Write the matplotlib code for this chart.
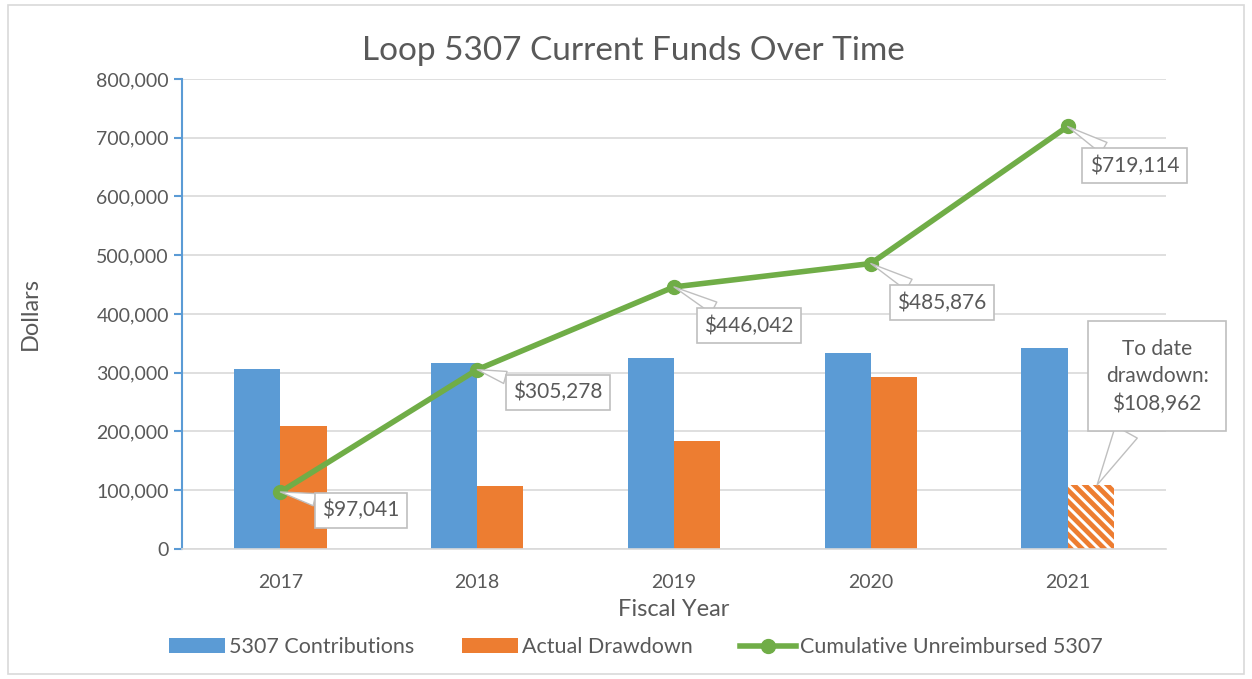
import numpy as np
import matplotlib.pyplot as plt
from matplotlib.patches import Rectangle
from matplotlib.ticker import FuncFormatter

years = ["2017", "2018", "2019", "2020", "2021"]
contributions = [307000, 316000, 325000, 334000, 342000]
drawdown = [210000, 107000, 184000, 293000, 108962]
cumulative = [97041, 305278, 446042, 485876, 719114]
label_pos = [(0.41, 66000), (1.41, 267000), (2.38, 380000), (3.36, 419000), (4.34, 652000)]

blue = "#5B9BD5"
orange = "#ED7D31"
green = "#70AD47"
txt = "#595959"

plt.rcParams['font.family'] = ['Lato', 'DejaVu Sans']
plt.rcParams['hatch.linewidth'] = 3.5

fig = plt.figure(figsize=(12.52, 6.79), dpi=100)
ax = fig.add_axes([0.1454, 0.1915, 0.7859, 0.6922])
fig.patches.append(Rectangle((0.006, 0.008), 0.988, 0.984, transform=fig.transFigure,
                             fill=False, ec="#D9D9D9", lw=1.2))

x = np.arange(len(years))
w = 0.235
b1 = ax.bar(x - w / 2, contributions, w, color=blue, label="5307 Contributions", zorder=2)
b2 = ax.bar(x[:-1] + w / 2, drawdown[:-1], w, color=orange, label="Actual Drawdown", zorder=2)
ax.bar(x[-1] + w / 2, drawdown[-1], w, color="white", edgecolor=orange, hatch="\\\\\\",
       lw=0, zorder=2)
ln, = ax.plot(x, cumulative, color=green, lw=4, marker="o", ms=10,
              label="Cumulative Unreimbursed 5307", zorder=4)

for i, (v, (lx, ly)) in enumerate(zip(cumulative, label_pos)):
    ax.annotate("${:,}".format(v), xy=(x[i], v), xytext=(lx, ly), ha="center", va="center",
                fontsize=15, color=txt, zorder=5,
                bbox=dict(boxstyle="square,pad=0.35", fc="white", ec="#BFBFBF", lw=1.2),
                arrowprops=dict(arrowstyle="wedge,tail_width=0.6", fc="white", ec="#BFBFBF",
                                lw=1.0, shrinkA=0, shrinkB=0))

ax.annotate("To date\ndrawdown:\n${:,}".format(drawdown[-1]), xy=(x[-1] + 0.15, drawdown[-1]),
            xytext=(4.455, 294000), ha="center", va="center", fontsize=15, color=txt,
            linespacing=1.45, zorder=5, annotation_clip=False,
            bbox=dict(boxstyle="square,pad=0.85", fc="white", ec="#BFBFBF", lw=1.2),
            arrowprops=dict(arrowstyle="wedge,tail_width=1.2", fc="white", ec="#BFBFBF",
                            lw=1.0, shrinkA=0, shrinkB=0))

ax.set_xlim(-0.5, 4.5)
ax.set_ylim(0, 800000)
ax.set_yticks(np.arange(0, 800001, 100000))
ax.yaxis.set_major_formatter(FuncFormatter(lambda v, p: "{:,}".format(int(v))))
ax.set_xticks(x)
ax.set_xticklabels(years)
ax.grid(axis="y", color="#D9D9D9", lw=1.2, zorder=0)
ax.set_axisbelow(True)
for s in ["top", "right"]:
    ax.spines[s].set_visible(False)
ax.spines["left"].set_color(blue)
ax.spines["left"].set_linewidth(1.5)
ax.spines["bottom"].set_color("#D9D9D9")
ax.spines["bottom"].set_linewidth(1.2)
ax.tick_params(axis="y", colors=blue, labelcolor=txt, labelsize=14, length=6, width=1.5)
ax.tick_params(axis="x", length=0, labelcolor=txt, labelsize=14, pad=18)

fig.text(0.506, 0.925, "Loop 5307 Current Funds Over Time", fontsize=24, color=txt,
         ha="center", va="center")
ax.set_xlabel("Fiscal Year", fontsize=17, color=txt, labelpad=6)
ax.set_ylabel("Dollars", fontsize=17, color=txt, labelpad=40)

fig.legend([b1, b2, ln], ["5307 Contributions", "Actual Drawdown", "Cumulative Unreimbursed 5307"],
           loc="center", bbox_to_anchor=(0.508, 0.047), ncol=3, frameon=False,
           fontsize=15.5, labelcolor=txt, handlelength=2.6, handletextpad=0.2, columnspacing=2.2)

fig.savefig("out.png", dpi=100)
